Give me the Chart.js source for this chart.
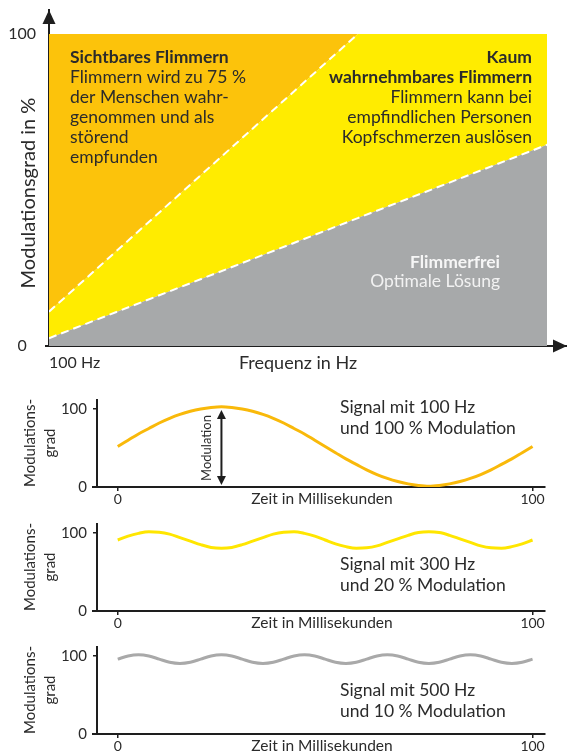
<!DOCTYPE html>
<html lang="de">
<head>
<meta charset="utf-8">
<title>Flimmern und Modulationsgrad</title>
<script src="https://cdn.jsdelivr.net/npm/chart.js@4.4.1/dist/chart.umd.min.js"></script>
<style>
  html, body { margin: 0; padding: 0; background: #fff; }
  #page { position: relative; width: 567px; height: 756px; overflow: hidden; }
  .box { position: absolute; left: 0; width: 567px; }
</style>
</head>
<body>
<div id="page">
  <div class="box" style="top:0;height:380px"><canvas id="zones"></canvas></div>
  <div class="box" style="top:385px;height:124px"><canvas id="sig100"></canvas></div>
  <div class="box" style="top:509px;height:124px"><canvas id="sig300"></canvas></div>
  <div class="box" style="top:632px;height:124px"><canvas id="sig500"></canvas></div>
</div>
<script>
// top chart: position along the frequency axis (0 = 100 Hz, 100 = right end of the field)
const ZONE_X = [0, 62, 100];
const LIMIT_FREE = [2.5, 41, 64.5];      // below: flimmerfrei
const LIMIT_VISIBLE = [11, 100, 100];    // above: sichtbares Flimmern
const LIMIT_TOP = [100, 100, 100];
const ZONE_Y_TICKS = [0, 100];
const ZONE_X_TICKS = [0];
const ZONE_X_LABELS = ['100 Hz'];

// signal charts: time in ms and modulation in %
const TIME_MS = [0, 2.5, 5, 7.5, 10, 12.5, 15, 17.5, 20, 22.5, 25, 27.5, 30, 32.5, 35, 37.5, 40, 42.5, 45, 47.5,
  50, 52.5, 55, 57.5, 60, 62.5, 65, 67.5, 70, 72.5, 75, 77.5, 80, 82.5, 85, 87.5, 90, 92.5, 95, 97.5, 100];
const SIGNAL_100HZ = [52, 60, 68, 75, 82, 88, 93, 97, 100, 102, 103, 102, 100, 97, 93, 88, 82, 75, 68, 60,
  52, 44, 36, 29, 22, 16, 11, 7, 4, 2, 1, 2, 4, 7, 11, 16, 22, 29, 36, 44, 52];
const SIGNAL_300HZ = [91, 96, 99.5, 101.5, 101, 98.5, 94, 89.5, 85, 81.5, 80.5, 81.5, 85, 89.5, 94, 98.5, 101, 101.5, 99.5, 96,
  91, 86, 82.5, 80.5, 81, 83.5, 88, 92.5, 97, 100.5, 101.5, 100.5, 97, 92.5, 88, 83.5, 81, 80.5, 82.5, 86, 91];
const SIGNAL_500HZ = [96, 100, 101.5, 100, 96, 92, 90.5, 92, 96, 100, 101.5, 100, 96, 92, 90.5, 92, 96, 100, 101.5, 100,
  96, 92, 90.5, 92, 96, 100, 101.5, 100, 96, 92, 90.5, 92, 96, 100, 101.5, 100, 96, 92, 90.5, 92, 96];
const SIGNAL_TICKS = [0, 100];

const FONT = 'Lato, "Noto Sans", sans-serif';
const TEXT = '#2b2b2b';
const AXIS = '#1e1e1e';
const ORANGE = '#fcc30b';
const YELLOW = '#ffec00';
const GRAY = '#a7a9aa';
const NOTE_SIZE = 17.5;

function block(lines, x, y, lh, size, align) {
  return lines.map((l, i) => ({
    text: l.text, bold: !!l.bold, color: l.color || TEXT,
    x: x, y: y + i * lh, size: size, align: align
  }));
}

function drawText(ctx, t) {
  ctx.save();
  ctx.font = (t.bold ? 'bold ' : '') + t.size + 'px ' + FONT;
  ctx.fillStyle = t.color || TEXT;
  ctx.textAlign = t.align || 'left';
  ctx.textBaseline = 'middle';
  ctx.translate(t.x, t.y);
  if (t.rotate) ctx.rotate(-Math.PI / 2);
  ctx.fillText(t.text, 0, 0);
  ctx.restore();
}

const decor = {
  id: 'decor',
  afterDraw(chart, args, opts) {
    const ctx = chart.ctx;
    const a = chart.chartArea;
    ctx.save();
    ctx.fillStyle = AXIS;
    ctx.strokeStyle = AXIS;
    if (opts.axisArrows) {
      ctx.beginPath();
      ctx.moveTo(a.left, a.top);
      ctx.lineTo(a.left - 6.5, a.top + 14);
      ctx.lineTo(a.left + 6.5, a.top + 14);
      ctx.closePath();
      ctx.fill();
      ctx.beginPath();
      ctx.moveTo(a.right, a.bottom);
      ctx.lineTo(a.right - 14, a.bottom - 6.5);
      ctx.lineTo(a.right - 14, a.bottom + 6.5);
      ctx.closePath();
      ctx.fill();
    }
    if (opts.axisOverhang) {
      // axis lines run a few pixels past the crossing point
      ctx.lineWidth = 2;
      ctx.beginPath();
      ctx.moveTo(a.left - opts.axisOverhang, a.bottom);
      ctx.lineTo(a.left, a.bottom);
      ctx.stroke();
    }
    if (opts.modulation) {
      const m = opts.modulation;
      const xs = chart.scales.x, ys = chart.scales.y;
      const px = xs.getPixelForValue(m.at);
      const top = ys.getPixelForValue(100) + 1;
      const bot = ys.getPixelForValue(0) - 2;
      ctx.lineWidth = 2;
      ctx.beginPath();
      ctx.moveTo(px, top + 6);
      ctx.lineTo(px, bot - 6);
      ctx.stroke();
      ctx.beginPath();
      ctx.moveTo(px, top);
      ctx.lineTo(px - 4.5, top + 9);
      ctx.lineTo(px + 4.5, top + 9);
      ctx.closePath();
      ctx.fill();
      ctx.beginPath();
      ctx.moveTo(px, bot);
      ctx.lineTo(px - 4.5, bot - 9);
      ctx.lineTo(px + 4.5, bot - 9);
      ctx.closePath();
      ctx.fill();
      drawText(ctx, { text: m.label, x: xs.getPixelForValue(m.labelAt), y: ys.getPixelForValue(50),
        size: 13, align: 'center', rotate: true, color: TEXT });
    }
    (opts.texts || []).forEach(t => drawText(ctx, t));
    ctx.restore();
  }
};
Chart.register(decor);

const toPoints = (xs, ys) => xs.map((x, i) => ({ x: x, y: ys[i] }));

// ---------- top chart ----------
new Chart(document.getElementById('zones'), {
  type: 'line',
  data: {
    datasets: [
      {
        label: 'Flimmerfrei',
        data: toPoints(ZONE_X, LIMIT_FREE),
        backgroundColor: GRAY,
        borderColor: '#fff',
        borderWidth: 2,
        borderDash: [8, 5],
        fill: 'origin'
      },
      {
        label: 'Kaum wahrnehmbares Flimmern',
        data: toPoints(ZONE_X, LIMIT_VISIBLE),
        backgroundColor: YELLOW,
        borderColor: 'rgba(0,0,0,0)',
        borderWidth: 0,
        fill: '-1'
      },
      {
        label: 'Sichtbares Flimmern',
        data: toPoints(ZONE_X, LIMIT_TOP),
        backgroundColor: ORANGE,
        borderColor: 'rgba(0,0,0,0)',
        borderWidth: 0,
        fill: '-1'
      },
      {
        // dashed border between orange and yellow, only where it slopes
        label: 'Grenze',
        data: toPoints(ZONE_X.slice(0, 2), LIMIT_VISIBLE.slice(0, 2)),
        borderColor: '#fff',
        borderWidth: 2,
        borderDash: [8, 5],
        fill: false,
        order: -1
      }
    ]
  },
  options: {
    responsive: true,
    maintainAspectRatio: false,
    animation: false,
    elements: { point: { radius: 0 }, line: { tension: 0 } },
    layout: { padding: { top: 10, right: 0, left: 0, bottom: 0 } },
    plugins: {
      legend: { display: false },
      tooltip: { enabled: false },
      decor: {
        axisArrows: true,
        axisOverhang: 4,
        texts: [].concat(
          block([
            { text: 'Sichtbares Flimmern', bold: true },
            { text: 'Flimmern wird zu 75 %' },
            { text: 'der Menschen wahr-' },
            { text: 'genommen und als' },
            { text: 'störend' },
            { text: 'empfunden' }
          ], 70, 57, 20, NOTE_SIZE, 'left'),
          block([
            { text: 'Kaum', bold: true },
            { text: 'wahrnehmbares Flimmern', bold: true },
            { text: 'Flimmern kann bei' },
            { text: 'empfindlichen Personen' },
            { text: 'Kopfschmerzen auslösen' }
          ], 532, 57, 20, NOTE_SIZE, 'right'),
          block([
            { text: 'Flimmerfrei', bold: true, color: '#f6f6f6' },
            { text: 'Optimale Lösung', color: '#f2f2f2' }
          ], 500, 262, 19, NOTE_SIZE, 'right'),
          [
            { text: 'Frequenz in Hz', x: 298, y: 363, size: 18, align: 'center' },
            { text: 'Modulationsgrad in %', x: 29, y: 193, size: 20, align: 'center', rotate: true }
          ]
        )
      }
    },
    scales: {
      x: {
        type: 'linear',
        min: 0,
        max: 104,
        afterBuildTicks: s => { s.ticks = ZONE_X_TICKS.map(v => ({ value: v })); },
        afterFit: s => { s.height = 34; },
        grid: { display: false, drawTicks: false },
        border: { display: true, color: AXIS, width: 2 },
        ticks: {
          align: 'start',
          padding: 7,
          color: TEXT,
          font: { family: FONT, size: 16 },
          callback: (v, i) => ZONE_X_LABELS[i]
        }
      },
      y: {
        min: 0,
        max: 107.7,
        afterBuildTicks: s => { s.ticks = ZONE_Y_TICKS.map(v => ({ value: v })); },
        afterFit: s => { s.width = 49; },
        // invisible tick marks give the label gap without adding top padding
        grid: { display: true, drawOnChartArea: false, drawTicks: true, tickLength: 13, color: 'rgba(0,0,0,0)' },
        border: { display: true, color: AXIS, width: 2 },
        ticks: {
          crossAlign: 'center',
          padding: 0,
          color: TEXT,
          font: { family: FONT, size: 16, lineHeight: 1 }
        }
      }
    }
  }
});

// ---------- signal charts ----------
function signalChart(id, values, color, noteLines, noteY, modulation) {
  return new Chart(document.getElementById(id), {
    type: 'line',
    data: {
      datasets: [{
        data: toPoints(TIME_MS, values),
        borderColor: color,
        borderWidth: 3,
        pointRadius: 0,
        cubicInterpolationMode: 'monotone',
        fill: false
      }]
    },
    options: {
      responsive: true,
      maintainAspectRatio: false,
      animation: false,
      layout: { padding: { top: 15, right: 22, left: 0, bottom: 0 } },
      plugins: {
        legend: { display: false },
        tooltip: { enabled: false },
        decor: {
          modulation: modulation,
          axisOverhang: 5,
          texts: [].concat(
            block(noteLines.map(t => ({ text: t })), 340, noteY, 21, NOTE_SIZE, 'left'),
            [
              { text: 'Zeit in Millisekunden', x: 322, y: 114, size: 15.5, align: 'center' },
              { text: 'Modulations-', x: 30, y: 58, size: 15, align: 'center', rotate: true },
              { text: 'grad', x: 50, y: 58, size: 15, align: 'center', rotate: true }
            ]
          )
        }
      },
      scales: {
        x: {
          type: 'linear',
          min: -5,
          max: 103,
          afterBuildTicks: s => { s.ticks = SIGNAL_TICKS.map(v => ({ value: v })); },
          afterFit: s => { s.height = 22; },
          grid: { display: true, drawOnChartArea: false, drawTicks: true, tickLength: 4, color: AXIS, lineWidth: 1.5 },
          border: { display: true, color: AXIS, width: 2 },
          ticks: { padding: 0, color: TEXT, font: { family: FONT, size: 14 } }
        },
        y: {
          min: 0,
          max: 111.5,
          afterBuildTicks: s => { s.ticks = SIGNAL_TICKS.map(v => ({ value: v })); },
          afterFit: s => { s.width = 97; },
          grid: { display: true, drawOnChartArea: false, drawTicks: true, tickLength: 4, color: AXIS, lineWidth: 1.5 },
          border: { display: true, color: AXIS, width: 2 },
          ticks: { padding: 6, color: TEXT, font: { family: FONT, size: 15 } }
        }
      }
    }
  });
}

signalChart('sig100', SIGNAL_100HZ, '#f9b90a',
  ['Signal mit 100 Hz', 'und 100 % Modulation'], 22,
  { at: 25, labelAt: 21.5, label: 'Modulation' });
signalChart('sig300', SIGNAL_300HZ, '#ffe600',
  ['Signal mit 300 Hz', 'und 20 % Modulation'], 55, null);
signalChart('sig500', SIGNAL_500HZ, '#a9a9a9',
  ['Signal mit 500 Hz', 'und 10 % Modulation'], 58, null);
</script>
</body>
</html>
